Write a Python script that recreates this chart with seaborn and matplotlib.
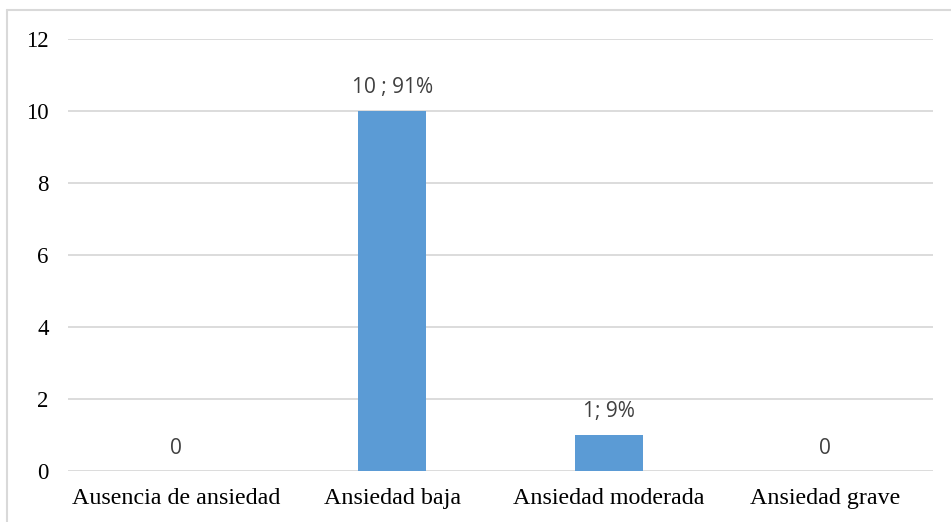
import matplotlib
matplotlib.use("Agg")
import matplotlib.pyplot as plt
from matplotlib.lines import Line2D
import seaborn as sns
import pandas as pd

categories = ["Ausencia de ansiedad", "Ansiedad baja", "Ansiedad moderada", "Ansiedad grave"]
counts = [0, 10, 1, 0]
bar_labels = ["0", "10 ; 91%", "1; 9%", "0"]
y_ticks = [0, 2, 4, 6, 8, 10, 12]

df = pd.DataFrame({"categoria": categories, "n": counts})

sns.set_theme(style="white")
plt.rcParams["font.family"] = ["Liberation Serif", "DejaVu Serif"]

fig = plt.figure(figsize=(9.51, 5.22), dpi=100)
ax = fig.add_axes([68 / 951, 1 - 471 / 522, (933 - 68) / 951, (471 - 39) / 522])

sns.barplot(data=df, x="categoria", y="n", color="#5B9BD5", saturation=1,
            width=0.315, linewidth=0, ax=ax, zorder=3)

ax.set_ylim(0, 12)
ax.set_yticks(y_ticks)
ax.set_xlim(-0.5, len(categories) - 0.5)
ax.yaxis.grid(True, color="#D9D9D9", linewidth=1.3, zorder=0)
ax.xaxis.grid(False)
for s in ax.spines.values():
    s.set_visible(False)
ax.set_xlabel("")
ax.set_ylabel("")
ax.tick_params(axis="y", length=0, pad=14, labelsize=16.5, labelcolor="black")
ax.tick_params(axis="x", length=0, pad=12, labelsize=17.3, labelcolor="black")

for i, (v, lab) in enumerate(zip(counts, bar_labels)):
    ax.annotate(lab, (i, v), xytext=(0, 9), textcoords="offset points",
                ha="center", va="bottom", fontsize=15, color="#404040",
                family=["Open Sans", "DejaVu Sans"])

# chart frame: top and left edges
fig.add_artist(Line2D([7 / 951, 7 / 951], [0, 1 - 10 / 522], transform=fig.transFigure,
                      color="#D9D9D9", linewidth=1.5))
fig.add_artist(Line2D([7 / 951, 1], [1 - 10 / 522, 1 - 10 / 522], transform=fig.transFigure,
                      color="#D9D9D9", linewidth=1.5))

fig.savefig("out.png", dpi=100, facecolor="white")
